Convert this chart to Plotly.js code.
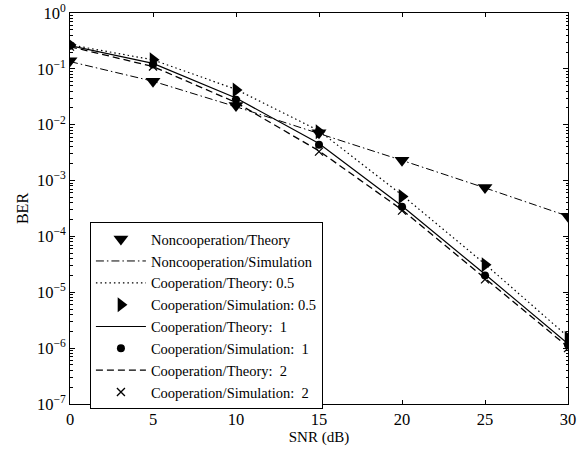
<!DOCTYPE html>
<html><head><meta charset="utf-8">
<script src="https://cdn.plot.ly/plotly-3.0.1.min.js"></script>
<style>body{margin:0;background:#fff}#plot{width:587px;height:450px}</style>
</head><body><div id="plot"></div>
<script>
const snr = [0, 5, 10, 15, 20, 25, 30];
const nonTheory = [0.14, 0.06, 0.022, 0.0072, 0.0023, 0.00075, 0.00023];
const nonSim = [0.135, 0.06, 0.021, 0.007, 0.0023, 0.00074, 0.00023];
const coopTheory05 = [0.27, 0.145, 0.043, 0.0078, 0.00055, 0.000032, 0.0000016];
const coopSim05 = [0.27, 0.145, 0.042, 0.0075, 0.00052, 0.000031, 0.0000015];
const coopTheory1 = [0.26, 0.125, 0.03, 0.0046, 0.00035, 0.000021, 0.0000012];
const coopSim1 = [0.26, 0.12, 0.028, 0.0044, 0.00034, 0.00002, 0.00000115];
const coopTheory2 = [0.25, 0.11, 0.025, 0.0034, 0.0003, 0.000018, 0.00000105];
const coopSim2 = [0.25, 0.11, 0.025, 0.0033, 0.00029, 0.000017, 0.000001];
const yTickVals = [1e-7, 1e-6, 1e-5, 1e-4, 1e-3, 1e-2, 1e-1, 1];
const yTickText = ['10<sup>−7</sup>','10<sup>−6</sup>','10<sup>−5</sup>','10<sup>−4</sup>','10<sup>−3</sup>','10<sup>−2</sup>','10<sup>−1</sup>','10<sup>0</sup>'];
const minorMantissas = [2, 3, 4, 5, 6, 7, 8, 9];
const xTickVals = [0, 5, 10, 15, 20, 25, 30];

const minorVals = [];
for (let e = -7; e < 0; e++) for (const m of minorMantissas) minorVals.push(m * Math.pow(10, e));

const k = '#000';
const serif = 'Liberation Serif';
const traces = [
  {x: snr, y: nonTheory, name: 'Noncooperation/Theory', mode: 'markers', marker: {symbol: 'triangle-down', size: 13, color: k}},
  {x: snr, y: nonSim, name: 'Noncooperation/Simulation', mode: 'lines', line: {dash: '8px,3px,1.5px,3px', width: 1, color: k}},
  {x: snr, y: coopTheory05, name: 'Cooperation/Theory: 0.5', mode: 'lines', line: {dash: '1.5px,3px', width: 1.2, color: k}},
  {x: snr, y: coopSim05, name: 'Cooperation/Simulation: 0.5', mode: 'markers', marker: {symbol: 'triangle-right', size: 13, color: k}},
  {x: snr, y: coopTheory1, name: 'Cooperation/Theory:\u00a0 1', mode: 'lines', line: {width: 1.2, color: k}},
  {x: snr, y: coopSim1, name: 'Cooperation/Simulation:\u00a0 1', mode: 'markers', marker: {symbol: 'circle', size: 8, color: k}},
  {x: snr, y: coopTheory2, name: 'Cooperation/Theory:\u00a0 2', mode: 'lines', line: {dash: '7px,4px', width: 1.3, color: k}},
  {x: snr, y: coopSim2, name: 'Cooperation/Simulation:\u00a0 2', mode: 'markers', marker: {symbol: 'x-thin', size: 8, color: k, line: {width: 1.3, color: k}}},
  {x: [], y: [], yaxis: 'y2', showlegend: false, mode: 'lines', hoverinfo: 'skip'}
];
const tickFont = {family: serif, size: 16.5, color: k};
const layout = {
  width: 587, height: 450,
  margin: {l: 70, r: 19, t: 13, b: 46},
  paper_bgcolor: '#fff', plot_bgcolor: '#fff',
  font: {family: serif, size: 15, color: k},
  showlegend: true,
  xaxis: {
    range: [0, 30], tickvals: xTickVals, ticks: 'inside', ticklen: 4, tickcolor: k,
    showline: true, linecolor: k, linewidth: 1, mirror: 'ticks', showgrid: false, zeroline: false,
    title: {text: 'SNR (dB)', font: {family: serif, size: 15, color: k}, standoff: 0}, tickfont: tickFont
  },
  yaxis: {
    type: 'log', range: [-7, 0], tickvals: yTickVals, ticktext: yTickText,
    ticks: 'inside', ticklen: 5, tickcolor: k,
    showline: true, linecolor: k, linewidth: 1, mirror: 'ticks', showgrid: false, zeroline: false,
    title: {text: 'BER', font: {family: serif, size: 16, color: k}, standoff: 4}, tickfont: tickFont
  },
  yaxis2: {
    type: 'log', range: [-7, 0], overlaying: 'y', side: 'left', tickvals: minorVals,
    showticklabels: false, ticks: 'inside', ticklen: 2.5, tickcolor: k, tickwidth: 1,
    showline: false, mirror: 'ticks', showgrid: false, zeroline: false
  },
  legend: {
    x: 0.040, y: 0.465, xanchor: 'left', yanchor: 'top',
    bgcolor: '#fff', bordercolor: k, borderwidth: 1,
    font: {family: serif, size: 14.5, color: k},
    tracegroupgap: 0, itemwidth: 50
  }
};
Plotly.newPlot('plot', traces, layout, {staticPlot: true});
</script></body></html>
